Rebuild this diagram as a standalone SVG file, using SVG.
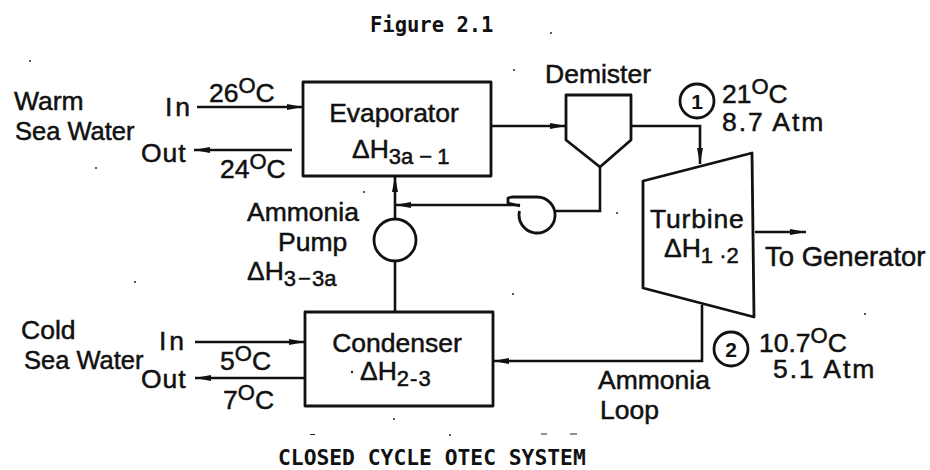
<svg xmlns="http://www.w3.org/2000/svg" width="930" height="470" viewBox="0 0 930 470">
<style>
text{font-family:"Liberation Sans",Arial,sans-serif;font-size:26.5px;fill:#111;stroke:#111;stroke-width:.5}
.m{font-family:"DejaVu Sans Mono","Liberation Mono",monospace;font-weight:bold;font-size:20.5px;stroke:none}
.c{text-anchor:middle}
.s{font-size:22px}
.b{font-size:21px;font-weight:bold;stroke:none}
.w{font-size:25.5px}
.sp{letter-spacing:1.900px}
.shape{fill:none;stroke:#111;stroke-width:2.800;stroke-linejoin:round}
.line{fill:none;stroke:#111;stroke-width:2.600}
.arrow{marker-end:url(#a)}
.dot{fill:#222}
</style>
<defs><marker id="a" markerUnits="userSpaceOnUse" markerWidth="16" markerHeight="8" refX="16" refY="4" orient="auto"><path d="M0 1L16 4L0 7Z" fill="#111"/></marker></defs>
<rect width="930" height="470" fill="#fff"/>
<text class="m" x="370" y="32">Figure 2.1</text>
<g id="connectors">
<path class="line arrow" d="M197 107H303"/>
<path class="line arrow" d="M292 150H194"/>
<path class="line arrow" d="M195 342H305"/>
<path class="line arrow" d="M305 378H195"/>
<path class="line arrow" d="M491 126H566"/>
<path class="line arrow" d="M631 126H700V164"/>
<path class="line arrow" d="M755 232H806"/>
<path class="line" d="M600 167V211H555"/>
<path class="line arrow" d="M520 205H395"/>
<path class="line arrow" d="M395 219V176"/>
<path class="line" d="M395 261V312"/>
<path class="line arrow" d="M702 305V361H493"/>
</g>
<g id="evaporator"><rect class="shape" x="303" y="82" width="188" height="94"/>
<text class="c" x="394" y="122">Evaporator</text>
<text x="352" y="158">ΔH<tspan class="s" dy="6">3a</tspan><tspan class="s" dx="6">−</tspan><tspan class="s" dx="5">1</tspan></text></g>
<g id="condenser"><rect class="shape" x="305" y="312" width="188" height="94"/>
<text class="c" x="397" y="352">Condenser</text>
<circle class="dot" cx="352" cy="372" r="1.200"/>
<text x="360" y="380">ΔH<tspan class="s" dy="6">2</tspan><tspan class="s" dx="1">-</tspan><tspan class="s" dx="1">3</tspan></text></g>
<g id="demister"><path class="shape" d="M566 95H631V140L600 167L566 140Z"/>
<text x="545" y="83">Demister</text></g>
<g id="turbine"><path class="shape" d="M643 181L752 153L754 317L643 288Z"/>
<text x="650" y="228" style="letter-spacing:.8px">Turbine</text>
<text x="664" y="257">ΔH<tspan class="s" dy="6">1</tspan><tspan class="s"> ·</tspan><tspan class="s">2</tspan></text></g>
<g id="ammonia-pump"><circle class="shape" cx="395" cy="240" r="21"/>
<text x="247" y="221">Ammonia</text>
<text x="278" y="251">Pump</text>
<text x="247" y="280">ΔH<tspan class="s" dy="6">3</tspan><tspan class="s" dx="2">−</tspan><tspan class="s" dx="1">3a</tspan></text></g>
<g id="loop-pump"><path class="shape" d="M520 206L508 203V198L512 197H537A18 18 0 1 1 519.500 211"/></g>
<g id="warm-labels">
<text x="14" y="110">Warm</text>
<text class="w" x="15" y="140">Sea Water</text>
<text x="165" y="116" style="letter-spacing:3px">In</text>
<text x="141" y="162" style="letter-spacing:1px">Out</text>
<text x="209" y="102">26<tspan class="s" dy="-9">O</tspan><tspan dy="9">C</tspan></text>
<text x="220" y="178">24<tspan class="s" dy="-9">O</tspan><tspan dy="9">C</tspan></text></g>
<g id="cold-labels">
<text x="21" y="339">Cold</text>
<text class="w" x="24" y="369">Sea Water</text>
<text x="159" y="350" style="letter-spacing:3px">In</text>
<text x="141" y="388" style="letter-spacing:1px">Out</text>
<text x="220" y="370">5<tspan class="s" dy="-9">O</tspan><tspan dy="9">C</tspan></text>
<text x="223" y="409">7<tspan class="s" dy="-9">O</tspan><tspan dy="9">C</tspan></text></g>
<g id="state-1"><circle class="shape" cx="697" cy="101" r="17"/>
<text class="c b" x="697" y="109">1</text>
<text x="722" y="103">21<tspan class="s" dy="-9">O</tspan><tspan dy="9">C</tspan></text>
<text class="sp" x="722" y="131">8.7 Atm</text></g>
<g id="state-2"><circle class="shape" cx="731" cy="349" r="17"/>
<text class="c b" x="731" y="357">2</text>
<text x="759" y="352">10.7<tspan class="s" dy="-9">O</tspan><tspan dy="9">C</tspan></text>
<text class="sp" x="773" y="378">5.1 Atm</text></g>
<text x="765" y="266" style="font-size:27.500px">To Generator</text>
<text x="598" y="389">Ammonia</text>
<text x="600" y="419">Loop</text>
<text class="m" x="278" y="464.500" style="font-size:21.300px">CLOSED CYCLE OTEC SYSTEM</text>
<g id="specks"><circle class="dot" cx="30" cy="61" r="1"/><circle class="dot" cx="96" cy="168" r="1"/><circle class="dot" cx="135" cy="282" r="1"/><circle class="dot" cx="364" cy="192" r="1"/><circle class="dot" cx="514" cy="70" r="1"/><circle class="dot" cx="551" cy="33" r="1"/><circle class="dot" cx="617" cy="213" r="1"/><circle class="dot" cx="513" cy="294" r="1"/><circle class="dot" cx="865" cy="314" r="1"/><circle class="dot" cx="394" cy="419" r="1"/><circle class="dot" cx="450" cy="435" r="1"/><path d="M310 434.500h5M541 434h6M570 434h7" stroke="#222" stroke-width="1.200"/></g>
</svg>
